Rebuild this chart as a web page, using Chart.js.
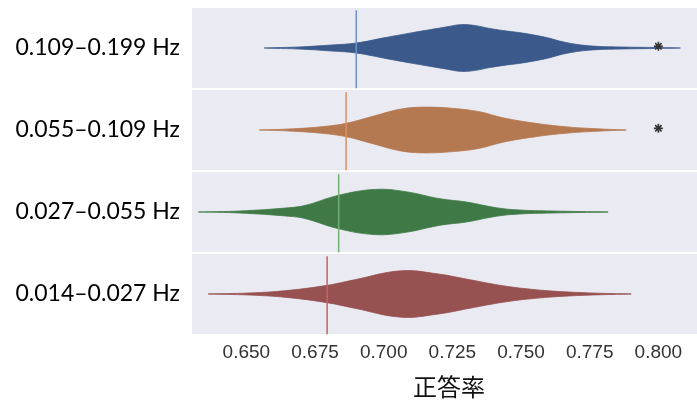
<!DOCTYPE html>
<html>
<head>
<meta charset="utf-8">
<script src="https://cdn.jsdelivr.net/npm/chart.js@4.4.1/dist/chart.umd.min.js"></script>
<style>
  html, body { margin: 0; padding: 0; overflow: hidden; background: #fff; }
  #wrap { width: 712px; height: 405px; }
</style>
</head>
<body>
<div id="wrap"><canvas id="violinChart"></canvas></div>
<script>
// === DATA ===
const categories = ['0.109–0.199 Hz', '0.055–0.109 Hz', '0.027–0.055 Hz', '0.014–0.027 Hz'];
const colors = ['#3b5a8b', '#b57952', '#3f7a46', '#975151'];
const lineColors = ['#6f8fc8', '#dc8f5e', '#70b075', '#c46565'];

// violin outline: 正答率 values and relative density (peak = 1)
const xRow1 = [0.6565, 0.660, 0.669, 0.681, 0.690, 0.701, 0.711, 0.717, 0.723, 0.728, 0.733, 0.7386, 0.745, 0.7506, 0.759, 0.766, 0.7744, 0.7865, 0.7985, 0.808];
const dRow1 = [0, 0.013, 0.043, 0.128, 0.213, 0.455, 0.668, 0.787, 0.906, 1.0, 0.966, 0.838, 0.723, 0.638, 0.455, 0.243, 0.098, 0.043, 0.021, 0];

const xRow2 = [0.6547, 0.6655, 0.6774, 0.6863, 0.6954, 0.7062, 0.7146, 0.7254, 0.7350, 0.7434, 0.7554, 0.7673, 0.7793, 0.7883];
const dRow2 = [0, 0.043, 0.140, 0.285, 0.566, 0.894, 0.979, 0.923, 0.779, 0.523, 0.285, 0.128, 0.043, 0];

const xRow3 = [0.6325, 0.6475, 0.6655, 0.6715, 0.6834, 0.6966, 0.7074, 0.7206, 0.7302, 0.7410, 0.7494, 0.7614, 0.7817];
const dRow3 = [0, 0.043, 0.183, 0.285, 0.711, 0.966, 0.881, 0.566, 0.426, 0.183, 0.085, 0.043, 0];

const xRow4 = [0.6361, 0.6535, 0.6655, 0.6794, 0.6894, 0.7062, 0.7194, 0.7314, 0.7434, 0.7554, 0.7673, 0.7793, 0.7901];
const dRow4 = [0, 0.055, 0.157, 0.370, 0.609, 0.991, 0.864, 0.609, 0.353, 0.183, 0.085, 0.030, 0];

const refLines = [0.690, 0.6863, 0.6836, 0.6794];   // vertical reference line per row
const starRows = [0, 1];                            // rows marked with *
const starX = 0.800;
const xTicks = [0.650, 0.675, 0.700, 0.725, 0.750, 0.775, 0.800];

const xs = [xRow1, xRow2, xRow3, xRow4];
const ds = [dRow1, dRow2, dRow3, dRow4];
const HALF = 0.285; // max half width of a violin, in row units

// === DATASETS ===
const datasets = [];
xs.forEach((xv, r) => {
    const c = r + 0.5;
    const top = xv.map((x, i) => ({ x: x, y: c - ds[r][i] * HALF }));
    const bottom = xv.map((x, i) => ({ x: x, y: c + ds[r][i] * HALF })).reverse();
    datasets.push({
        data: top.concat(bottom),
        showLine: true,
        fill: 'shape',
        backgroundColor: colors[r],
        borderColor: colors[r],
        borderWidth: 0.8,
        pointRadius: 0,
        tension: 0.4,
        order: 2
    });
    datasets.push({
        data: [{ x: refLines[r], y: r + 0.04 }, { x: refLines[r], y: r + 0.99 }],
        showLine: true,
        borderColor: lineColors[r],
        borderWidth: 1.5,
        pointRadius: 0,
        order: 1
    });
});
datasets.push({
    data: starRows.map(r => ({ x: starX, y: r + 0.48 })),
    showLine: false,
    pointStyle: 'star',
    pointRadius: 4.5,
    borderColor: '#333',
    borderWidth: 1.6,
    order: 0
});

const bgPlugin = {
    id: 'bg',
    beforeDraw(chart) {
        const a = chart.chartArea;
        chart.ctx.save();
        chart.ctx.fillStyle = '#eaeaf2';
        chart.ctx.fillRect(a.left, a.top, a.right - a.left, a.bottom - a.top);
        chart.ctx.restore();
    }
};

new Chart(document.getElementById('violinChart').getContext('2d'), {
    type: 'scatter',
    data: { datasets: datasets },
    plugins: [bgPlugin],
    options: {
        responsive: true,
        maintainAspectRatio: false,
        animation: false,
        events: [],
        layout: { padding: { top: 7 } },
        plugins: { legend: { display: false }, tooltip: { enabled: false } },
        scales: {
            x: {
                type: 'linear',
                min: 0.6302,
                max: 0.8173,
                afterBuildTicks: s => { s.ticks = xTicks.map(v => ({ value: v })); },
                afterFit: s => { s.height = 70; s.paddingLeft = 0; s.paddingRight = 0; },
                grid: { display: false, drawTicks: false },
                border: { display: false },
                ticks: {
                    padding: 6,
                    color: '#333',
                    font: { family: 'Liberation Sans', size: 19 },
                    callback: v => v.toFixed(3)
                },
                title: {
                    display: true,
                    text: '正答率',
                    color: '#111',
                    font: { family: 'Noto Sans CJK JP', size: 24 },
                    padding: { top: 0, bottom: 4 }
                }
            },
            y: {
                type: 'linear',
                min: 0,
                max: 4,
                reverse: true,
                afterBuildTicks: s => { s.ticks = categories.map((c, i) => ({ value: i + 0.5 })); },
                afterFit: s => { s.width = 192; s.paddingTop = 0; s.paddingBottom = 0; },
                grid: { offset: true, color: '#ffffff', lineWidth: 2, drawTicks: false },
                border: { display: false },
                ticks: {
                    padding: 12,
                    color: '#000',
                    font: { family: 'Lato', size: 23 },
                    callback: v => categories[Math.floor(v)]
                }
            }
        }
    }
});
</script>
</body>
</html>
